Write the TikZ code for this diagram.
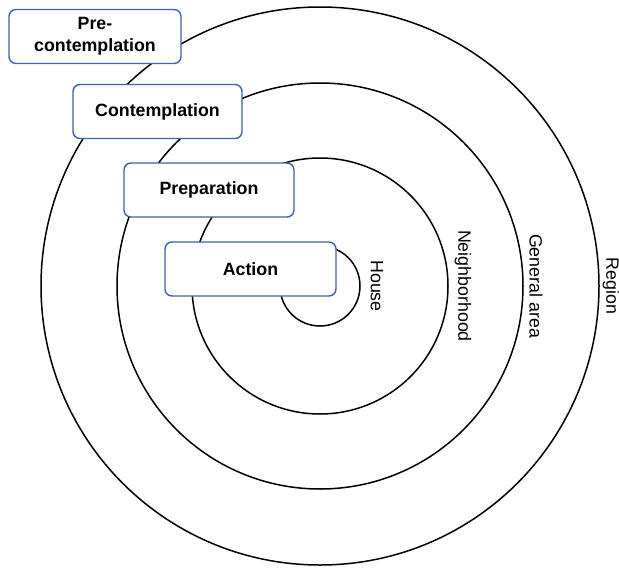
\documentclass[tikz,border=0pt]{standalone}
\usepackage{fontspec}
\setsansfont{Liberation Sans}
\usetikzlibrary{positioning}
\definecolor{boxblue}{HTML}{3E62A6}
\tikzset{
  ring/.style={line width=1.5pt},
  stage/.style={draw=boxblue, line width=1.4pt, fill=white, rounded corners=7pt,
    minimum width=170pt, minimum height=54pt, align=center, inner sep=2pt,
    font=\sffamily\bfseries\fontsize{17.8}{22}\selectfont},
  zone/.style={rotate=-90, inner sep=0pt, font=\sffamily\fontsize{17.8}{21}\selectfont}
}

\begin{document}
\begin{tikzpicture}[x=1pt, y=-1pt]
  \useasboundingbox (0,0) rectangle (619,568);

  \coordinate (ctr) at (320,286);

  % rings, from the house outwards
  \draw[ring] (ctr) circle (40pt);
  \draw[ring] (ctr) circle (128pt);
  \draw[ring] (ctr) circle (203pt);
  \draw[ring] (ctr) circle (279pt);

  \node[zone] (house)  at (377,286) {House};
  \node[zone] (nbhood) at (463,286) {Neighborhood};
  \node[zone] (area)   at (536,286) {General area};
  \node[zone] (region) at (611,286) {Region};

  % stages of change
  \node[stage, minimum width=172pt] (precont) at (95,36.5) {Pre-\\contemplation};
  \node[stage, minimum width=169pt] (cont)    at (157.5,111.5) {Contemplation};
  \node[stage] (prep)   at (209,190) {Preparation};
  \node[stage, minimum width=171pt] (action)  at (250.5,269) {Action};

\end{tikzpicture}
\end{document}
